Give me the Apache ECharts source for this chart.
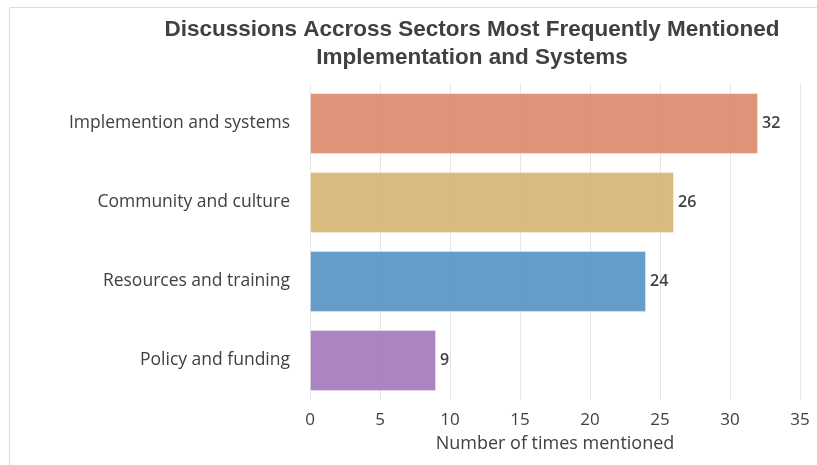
<!DOCTYPE html>
<html>
<head>
<meta charset="utf-8">
<script src="https://cdn.jsdelivr.net/npm/echarts@6/dist/echarts.min.js"></script>
<style>
  html, body { margin: 0; padding: 0; background: #fff; }
  #chart { width: 817px; height: 465px; }
</style>
</head>
<body>
<div id="chart"></div>
<script>
// data
const categories = ['Implemention and systems', 'Community and culture', 'Resources and training', 'Policy and funding']
const counts = [32, 26, 24, 9]
const barColors = ['rgba(221, 140, 112, 0.93)', 'rgba(214, 182, 118, 0.93)', 'rgba(88, 150, 198, 0.93)', 'rgba(164, 124, 189, 0.93)']
const xTicks = { min: 0, max: 35, interval: 5 }

const chart = echarts.init(document.getElementById('chart'), null, { renderer: 'canvas' })

chart.setOption({
  animation: false,
  title: {
    text: 'Discussions Accross Sectors Most Frequently Mentioned\nImplementation and Systems',
    left: 467,
    top: 11,
    textAlign: 'center',
    textStyle: {
      fontFamily: 'Liberation Sans',
      fontWeight: 'bold',
      fontSize: 22.5,
      lineHeight: 28,
      color: '#404040',
    },
  },
  graphic: [
    {
      type: 'rect',
      shape: { x: 9.5, y: 7.5, width: 820, height: 470 },
      style: { fill: 'none', stroke: '#dcdcdc', lineWidth: 1 },
      silent: true,
    },
  ],
  grid: {
    left: 310,
    right: 17,
    top: 84,
    bottom: 65,
    containLabel: false,
  },
  xAxis: {
    type: 'value',
    min: xTicks.min,
    max: xTicks.max,
    interval: xTicks.interval,
    name: 'Number of times mentioned',
    nameLocation: 'middle',
    nameGap: 35,
    nameTextStyle: { fontFamily: 'Open Sans', fontSize: 18, color: '#404040' },
    axisLine: { show: false },
    axisTick: { show: false },
    axisLabel: { fontFamily: 'Open Sans', fontSize: 17, color: '#404040', margin: 12 },
    splitLine: { show: true, lineStyle: { color: '#e6e6e6', width: 1 } },
  },
  yAxis: {
    type: 'category',
    data: categories,
    inverse: true,
    axisLine: { show: false },
    axisTick: { show: false },
    axisLabel: { fontFamily: 'Open Sans', fontSize: 17.5, color: '#404040', margin: 20 },
    splitLine: { show: false },
  },
  series: [
    {
      type: 'bar',
      data: counts.map((v, i) => ({ value: v, itemStyle: { color: barColors[i] } })),
      barCategoryGap: '23%',
      itemStyle: { borderColor: 'rgba(255,255,255,0.35)', borderWidth: 1 },
      label: {
        show: true,
        position: 'right',
        distance: 4,
        fontFamily: 'Open Sans',
        fontWeight: 600,
        fontSize: 16,
        color: '#404040',
      },
    },
  ],
})

window.addEventListener('resize', () => chart.resize())
</script>
</body>
</html>
